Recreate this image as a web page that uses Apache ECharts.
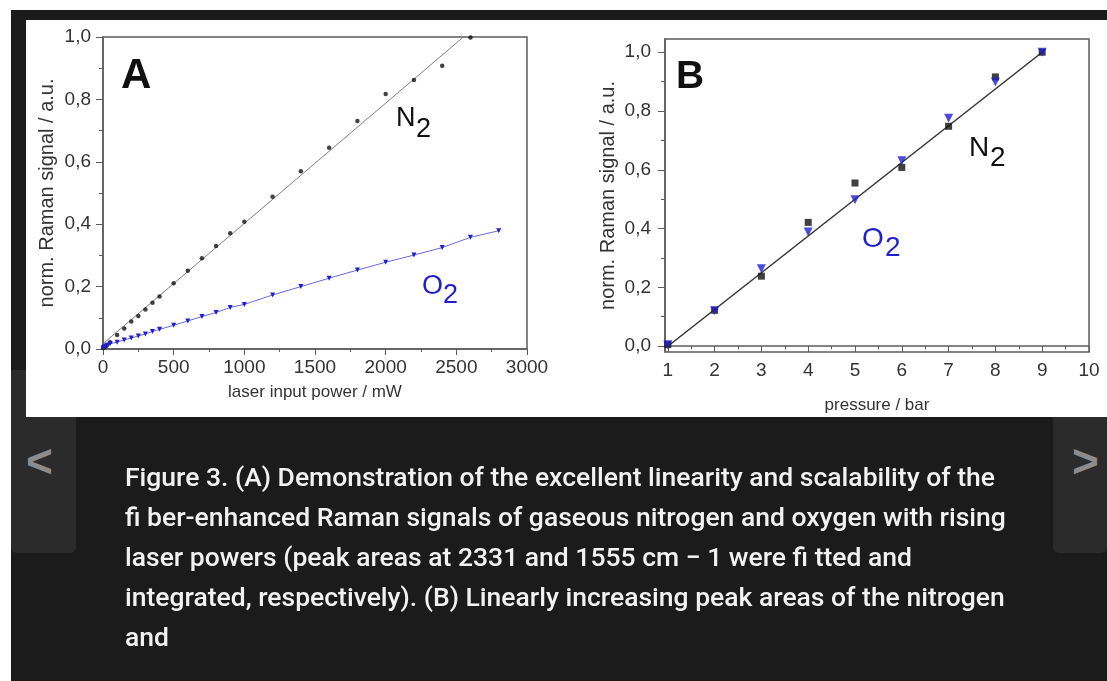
<!DOCTYPE html>
<html><head><meta charset="utf-8">
<script src="https://cdn.jsdelivr.net/npm/echarts@6.0.0/dist/echarts.min.js"></script>
<style>
html,body{margin:0;padding:0;width:1107px;height:681px;background:#fff;overflow:hidden;}
#frame{position:absolute;left:11px;top:10px;width:1096px;height:671px;background:#1b1b1b;}
.navbox{position:absolute;top:370px;height:183px;background:#2b2b2b;border-radius:0 0 6px 6px;}
#lbox{left:11px;width:65px;}
#rbox{left:1053px;width:54px;}
.arrow{position:absolute;color:#8c8c8c;font-family:"Liberation Sans",Arial,sans-serif;font-size:46px;font-weight:bold;line-height:46px;}
#larr{left:26px;top:438px;}
#rarr{left:1072px;top:438px;}
#panel{position:absolute;left:26px;top:20px;width:1081px;height:397px;background:#fff;}
#chart{position:absolute;left:0;top:0;width:1107px;height:681px;}
#caption{position:absolute;left:125px;top:457px;color:#f2f2f2;font-family:Roboto,"Noto Sans",sans-serif;font-weight:500;font-size:26.5px;line-height:40px;white-space:nowrap;}
</style></head>
<body>
<div id="frame"></div>
<div class="navbox" id="lbox"></div>
<div class="navbox" id="rbox"></div>
<div class="arrow" id="larr">&lt;</div>
<div class="arrow" id="rarr">&gt;</div>
<div id="panel"></div>
<div id="chart"></div>
<div id="caption">Figure 3. (A) Demonstration of the excellent linearity and scalability of the<br>fi ber-enhanced Raman signals of gaseous nitrogen and oxygen with rising<br>laser powers (peak areas at 2331 and 1555 cm − 1 were fi tted and<br>integrated, respectively). (B) Linearly increasing peak areas of the nitrogen<br>and</div>
<script>
// ---- Panel A data ----
const powerN2A = [0,10,20,30,50,100,150,200,250,300,350,400,500,600,700,800,900,1000,1200,1400,1600,1800,2000,2200,2400,2600];
const n2A      = [0.003,0.006,0.010,0.013,0.022,0.045,0.066,0.088,0.106,0.127,0.148,0.168,0.211,0.251,0.291,0.330,0.371,0.408,0.488,0.570,0.645,0.731,0.817,0.862,0.908,0.998];
const powerO2A = [0,10,20,30,50,100,150,200,250,300,350,400,500,600,700,800,900,1000,1200,1400,1600,1800,2000,2200,2400,2600,2800];
const o2A      = [0.004,0.007,0.010,0.012,0.017,0.022,0.029,0.035,0.042,0.048,0.056,0.063,0.076,0.090,0.104,0.117,0.133,0.143,0.173,0.200,0.227,0.253,0.278,0.301,0.325,0.358,0.379];
const fitN2A_x = [0, 2550];
const fitN2A_y = [0.017, 1.0];
const xTicksA = [0,500,1000,1500,2000,2500,3000];
const yTicks  = [0,0.2,0.4,0.6,0.8,1.0];
const yMinor  = [0.1,0.3,0.5,0.7,0.9];
// ---- Panel B data ----
const pressureB = [1,2,3,4,5,6,7,8,9];
const n2B = [0.005,0.122,0.238,0.421,0.555,0.608,0.748,0.916,1.0];
const o2B = [0.005,0.120,0.263,0.388,0.498,0.631,0.775,0.899,1.0];
const fitB_x = [0.98, 9.04];
const fitB_y = [-0.003, 1.005];
const xTicksB = [1,2,3,4,5,6,7,8,9,10];
const xMinorB = [1.5,2.5,3.5,4.5,5.5,6.5,7.5,8.5,9.5];

const zip = (a,b) => a.map((v,i)=>[v,b[i]]);
const comma = v => v.toFixed(1).replace('.', ',');
const plain = v => String(Math.round(v));
const AX = '#5c5c5c';
const FONT = '"Liberation Sans", Arial, sans-serif';
const LBL = {color:'#333', fontSize:19, fontFamily:FONT};
const NAME = {color:'#333', fontSize:17, fontFamily:FONT};
const YNAME = {color:'#333', fontSize:20, fontFamily:FONT};
const BLUE = '#1f1fcf';

const chart = echarts.init(document.getElementById('chart'), null, {renderer:'canvas'});
const option = {
  backgroundColor: 'transparent',
  animation: false,
  grid: [
    {left:103, top:37, width:424, height:312, show:true, borderColor:AX, borderWidth:1.5, backgroundColor:'transparent'},
    {left:665, top:39, width:424, height:313, show:true, borderColor:AX, borderWidth:1.5, backgroundColor:'transparent'}
  ],
  xAxis: [
    {gridIndex:0, type:'value', min:0, max:3000, interval:500,
     axisLine:{lineStyle:{color:AX, width:1.5}},
     axisTick:{show:true, length:6, lineStyle:{color:AX}},
     minorTick:{show:true, splitNumber:2, length:3, lineStyle:{color:AX}},
     splitLine:{show:false},
     axisLabel:{...LBL, margin:9, formatter:plain, showMinLabel:true, showMaxLabel:true},
     name:'laser input power / mW', nameLocation:'middle', nameGap:35, nameTextStyle:NAME},
    {gridIndex:1, type:'value', min:0.94, max:10,
     axisLine:{lineStyle:{color:AX, width:1.5}},
     axisTick:{show:true, length:6, lineStyle:{color:AX}, customValues:xTicksB},
     splitLine:{show:false},
     axisLabel:{...LBL, margin:9, formatter:plain, customValues:xTicksB},
     name:'pressure / bar', nameLocation:'middle', nameGap:45, nameTextStyle:NAME},
    {gridIndex:1, type:'value', min:0.94, max:10, position:'bottom',
     axisLine:{show:false},
     axisTick:{show:true, length:3, lineStyle:{color:AX}, customValues:xMinorB},
     splitLine:{show:false},
     axisLabel:{show:false, customValues:xMinorB}}
  ],
  yAxis: [
    {gridIndex:0, type:'value', min:0, max:1, interval:0.2,
     axisLine:{lineStyle:{color:AX, width:1.5}},
     axisTick:{show:true, length:7, lineStyle:{color:AX}},
     minorTick:{show:true, splitNumber:2, length:4, lineStyle:{color:AX}},
     splitLine:{show:false},
     axisLabel:{...LBL, margin:12, formatter:comma, showMinLabel:true, showMaxLabel:true},
     name:'norm. Raman signal / a.u.', nameLocation:'middle', nameGap:46, nameTextStyle:YNAME},
    {gridIndex:1, type:'value', min:-0.02, max:1.045,
     axisLine:{lineStyle:{color:AX, width:1.5}},
     axisTick:{show:true, length:7, lineStyle:{color:AX}, customValues:yTicks},
     splitLine:{show:false},
     axisLabel:{...LBL, margin:14, formatter:comma, customValues:yTicks},
     name:'norm. Raman signal / a.u.', nameLocation:'middle', nameGap:47, nameTextStyle:YNAME},
    {gridIndex:1, type:'value', min:-0.02, max:1.045, position:'left',
     axisLine:{show:false},
     axisTick:{show:true, length:4, lineStyle:{color:AX}, customValues:yMinor},
     splitLine:{show:false},
     axisLabel:{show:false, customValues:yMinor}}
  ],
  series: [
    {name:'N2 fit A', type:'line', xAxisIndex:0, yAxisIndex:0, data:zip(fitN2A_x, fitN2A_y),
     showSymbol:false, symbol:'none', lineStyle:{color:'#808080', width:1}, clip:true, z:2},
    {name:'N2 A', type:'scatter', xAxisIndex:0, yAxisIndex:0, data:zip(powerN2A, n2A),
     symbol:'circle', symbolSize:4.5, itemStyle:{color:'#111'}, z:3},
    {name:'O2 A', type:'line', xAxisIndex:0, yAxisIndex:0, data:zip(powerO2A, o2A),
     symbol:'triangle', symbolRotate:180, symbolSize:5, showAllSymbol:true,
     lineStyle:{color:'#6a6ae0', width:1}, itemStyle:{color:BLUE}, z:3},
    {name:'fit B', type:'line', xAxisIndex:1, yAxisIndex:1, data:zip(fitB_x, fitB_y),
     symbol:'none', lineStyle:{color:'#333', width:1.5}, z:2},
    {name:'N2 B', type:'scatter', xAxisIndex:1, yAxisIndex:1, data:zip(pressureB, n2B),
     symbol:'rect', symbolSize:7, itemStyle:{color:'#111'}, z:3},
    {name:'O2 B', type:'scatter', xAxisIndex:1, yAxisIndex:1, data:zip(pressureB, o2B),
     symbol:'triangle', symbolRotate:180, symbolSize:9, itemStyle:{color:BLUE}, z:4}
  ],
  graphic: [
    {type:'text', left:121, top:55, style:{text:'A', font:'bold 42px ' + FONT, fill:'#111'}},
    {type:'text', left:676, top:58, style:{text:'B', font:'bold 39px ' + FONT, fill:'#111'}},
    {type:'text', x:396, y:119, style:{text:'N', font:'27px ' + FONT, fill:'#111', verticalAlign:'middle'}},
    {type:'text', x:416, y:130, style:{text:'2', font:'27px ' + FONT, fill:'#111', verticalAlign:'middle'}},
    {type:'text', x:422, y:287, style:{text:'O', font:'27px ' + FONT, fill:BLUE, verticalAlign:'middle'}},
    {type:'text', x:443, y:296, style:{text:'2', font:'27px ' + FONT, fill:BLUE, verticalAlign:'middle'}},
    {type:'text', x:969, y:148, style:{text:'N', font:'28px ' + FONT, fill:'#111', verticalAlign:'middle'}},
    {type:'text', x:990, y:158, style:{text:'2', font:'28px ' + FONT, fill:'#111', verticalAlign:'middle'}},
    {type:'text', x:862, y:239, style:{text:'O', font:'28px ' + FONT, fill:BLUE, verticalAlign:'middle'}},
    {type:'text', x:885, y:248, style:{text:'2', font:'28px ' + FONT, fill:BLUE, verticalAlign:'middle'}}
  ]
};
chart.setOption(option);
</script>
</body></html>
